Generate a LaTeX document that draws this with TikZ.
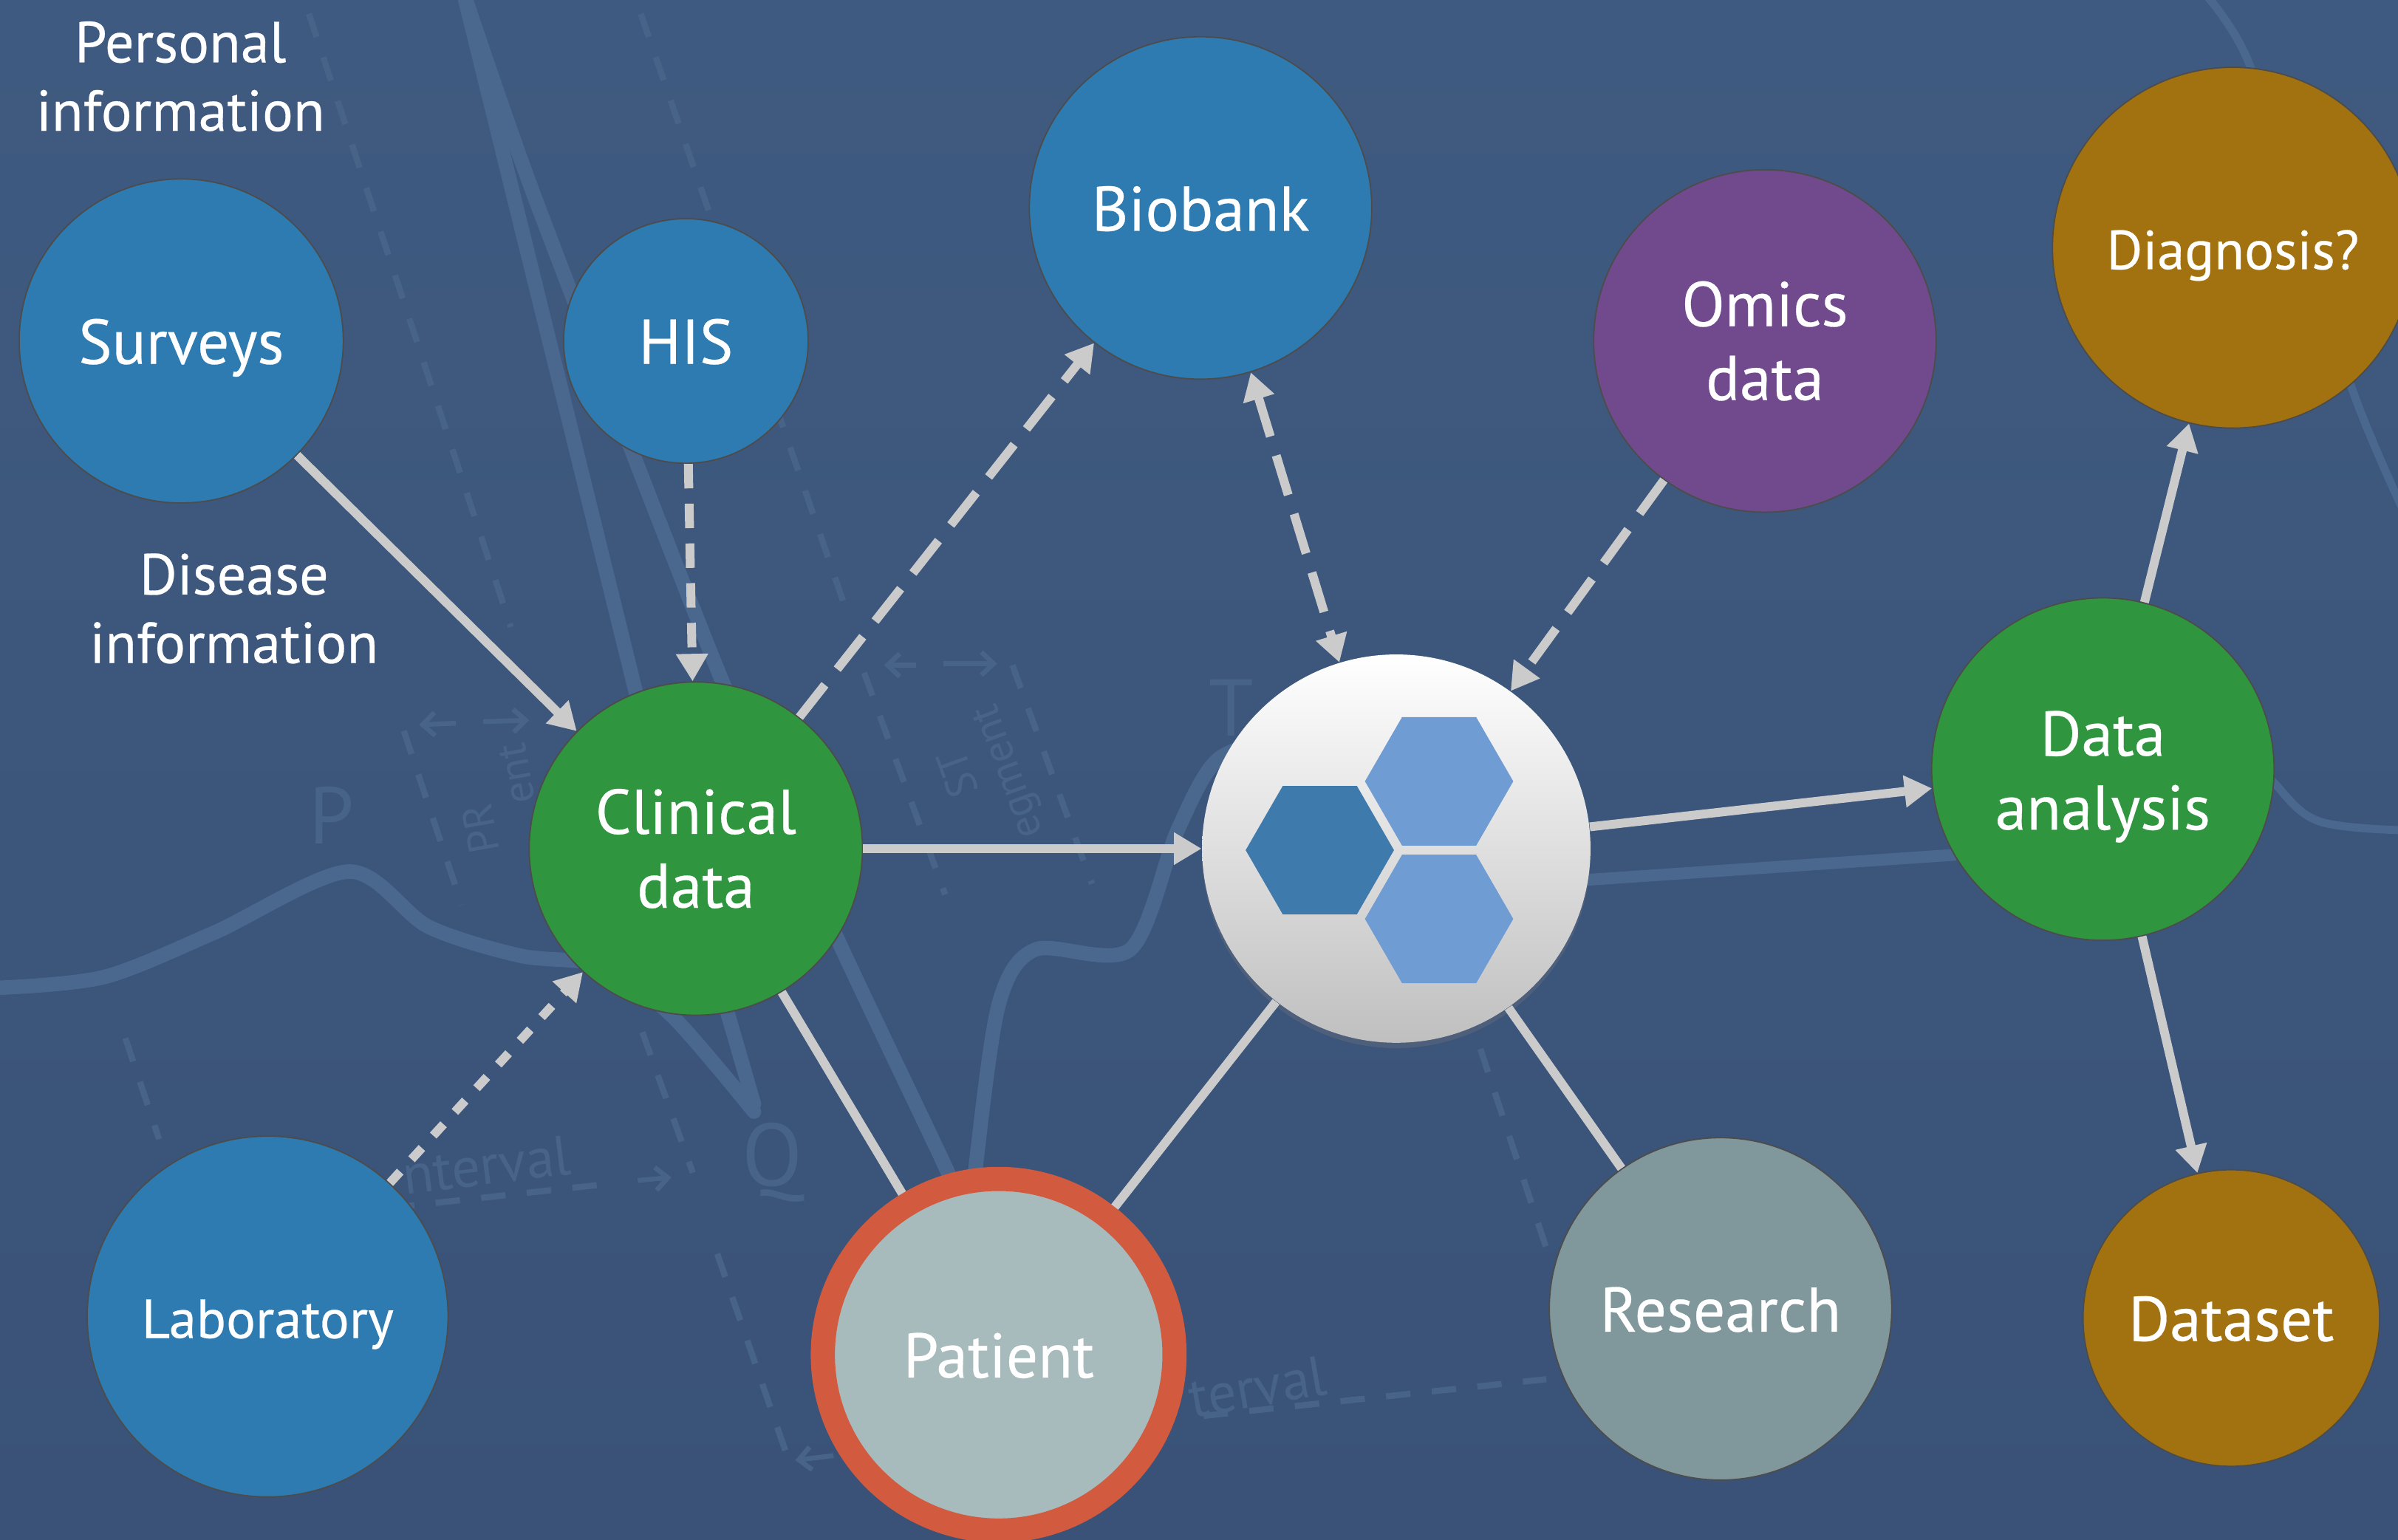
\documentclass[tikz,border=0pt]{standalone}
\usepackage{fontspec}
\setmainfont{PT Sans}[FakeBold=0.35]
\newfontfamily\faintfont{PT Sans}
\usetikzlibrary{arrows.meta,shapes.geometric,shadows}
\definecolor{bgTop}{HTML}{3F5A80}
\definecolor{bgBottom}{HTML}{3A5277}
\definecolor{traceBlue}{HTML}{4A678D}
\definecolor{guideBlue}{HTML}{486388}
\definecolor{lineGray}{HTML}{CBCBCB}
\definecolor{paperBlue}{HTML}{2D7BB0}
\definecolor{paperGreen}{HTML}{2F953F}
\definecolor{paperPurple}{HTML}{714A8E}
\definecolor{paperGold}{HTML}{A27210}
\definecolor{researchGray}{HTML}{80979B}
\definecolor{patientGray}{HTML}{A7BBBD}
\definecolor{patientRing}{HTML}{D25A3E}
\definecolor{hexDark}{HTML}{3F7AAD}
\definecolor{hexLight}{HTML}{6F9DD3}
\tikzset{
  disc/.style={circle,minimum size=#1,inner sep=0pt,draw=black!70,line width=0.5pt,
    text=white,align=center,font=\fontsize{23.5}{27.5}\selectfont},
  smalltext/.style={font=\fontsize{20.5}{24}\selectfont},
  baseline at/.style={text height=#1,text depth=0pt},
  freetext/.style={text=white,align=center,inner sep=0pt,font=\fontsize{21.5}{25.5}\selectfont},
  hexcell/.style={regular polygon,regular polygon sides=6,minimum size=1.94cm,inner sep=0pt},
  solidlink/.style={draw=lineGray,line width=3.3pt},
  flowlink/.style={solidlink,-{Triangle[length=0.36cm,width=0.4cm]}},
  guide/.style={draw=guideBlue,line width=2.3pt,dash pattern=on 0.32cm off 0.28cm},
  guidearrow/.style={draw=guideBlue,line width=1.8pt,-{Straight Barb[length=0.16cm,width=0.3cm]}},
  trace/.style={draw=traceBlue,line width=5.4pt,line join=round},
  faint/.style={text=guideBlue,inner sep=0pt}
}
\begin{document}
\begin{tikzpicture}[x=0.02cm,y=-0.02cm]
        \useasboundingbox (0,0) rectangle (1568,1007);
        \shade [top color=bgTop,bottom color=bgBottom] (0,0) rectangle (1568,1007);

        % ecg trace behind everything
        \draw [trace,line cap=round] plot[smooth,tension=0.5] coordinates
            {(0,646) (68,639) (140,610) (228,570) (280,606) (340,625) (395,632) (440,665) (493,727)};
        \draw [trace,line cap=round] (493,722) -- (420,470) -- (303,-5);
        \draw [trace] plot[smooth,tension=0.4] coordinates
            {(303,-5) (350,130) (470,440) (548,615) (619,765) (632,800)};
        \draw [trace] plot[smooth,tension=0.5] coordinates
            {(636,800) (638,763) (653,657) (677,621) (739,621) (770,543) (796,497) (840,480)};
        \draw [trace,line width=4.4pt] (1000,578) -- (1279,559);
        \draw [trace,line width=3pt] plot[smooth,tension=0.6] coordinates
            {(1441,-5) (1470,40) (1500,140) (1540,260) (1572,335)};
        \draw [trace,line width=3pt] plot[smooth,tension=0.6] coordinates
            {(1470,490) (1487,512) (1516,537) (1572,543)};

        % dashed guides of the ecg
        \foreach \gx/\gy/\hx/\hy in {202/9/334/410, 419/9/554/401, 565/440/618/585, 662/435/714/578,
            264/478/302/592, 420/675/453/767, 82/679/104/745, 469/820/515/953, 968/686/1011/816,
            787/926/1011/902, 255/790/400/774}
            \draw [guide] (\gx,\gy) -- (\hx,\hy);
        \foreach \gx/\gy/\hx/\hy in {298/473/274/474, 316/472/346/471, 599/435/578/435, 617/434/652/434,
            417/772/439/770, 545/952/520/955}
            \draw [guidearrow] (\gx,\gy) -- (\hx,\hy);
        \node [faint,font=\faintfont\fontsize{30}{30}\selectfont] (waveP) at (217,533) {P};
        \node [faint,font=\faintfont\fontsize{33}{33}\selectfont] (waveQ) at (505,760) {Q};
        \node [faint,font=\faintfont\fontsize{30}{30}\selectfont] (waveT) at (805,463) {T};
        \node [faint,rotate=100,font=\faintfont\fontsize{16}{16}\selectfont] (prText) at (314,542) {PR};
        \node [faint,rotate=100,font=\faintfont\fontsize{16}{16}\selectfont] (prEnd) at (338,506) {ent};
        \node [faint,rotate=110,font=\faintfont\fontsize{16}{16}\selectfont] (stText) at (626,506) {ST};
        \node [faint,rotate=110,font=\faintfont\fontsize{16}{16}\selectfont] (stEnd) at (661,504) {egment};
        \node [faint,rotate=7,font=\faintfont\fontsize{21}{21}\selectfont] (intervalA) at (318,762) {nterval};
        \node [faint,rotate=10,font=\faintfont\fontsize{21}{21}\selectfont] (intervalB) at (822,907) {terval};

        % free labels
        \node [freetext] (personalText) at (118,50) {Personal\\information};
        \node [freetext] (diseaseText) at (153,398) {Disease\\information};

        % data sources and outcomes
        \node [disc=4.24cm,fill=paperBlue,baseline at=17pt] (surveys) at (118.5,223) {Surveys};
        \node [disc=3.2cm,fill=paperBlue,baseline at=17pt] (his) at (448.5,223) {HIS};
        \node [disc=4.48cm,fill=paperBlue,baseline at=17pt] (biobank) at (785,136) {Biobank};
        \node [disc=4.48cm,fill=paperPurple] (omics) at (1154,223) {Omics\\data};
        \node [disc=4.72cm,fill=paperGold,smalltext,baseline at=16pt] (diagnosis) at (1460,162) {Diagnosis?};
        \node [disc=4.36cm,fill=paperGreen] (clinical) at (455,555) {Clinical\\data};
        \node [disc=4.48cm,fill=paperGreen,text height=50pt,text depth=5pt] (analysis) at (1375,503) {Data\\analysis};
        \node [disc=4.72cm,fill=paperBlue,smalltext,baseline at=16pt] (laboratory) at (175,861) {Laboratory};
        \node [disc=4.48cm,fill=researchGray,baseline at=17pt] (research) at (1125,856) {Research};
        \node [disc=3.88cm,fill=paperGold,baseline at=17pt] (dataset) at (1459,862) {Dataset};
        \node [disc=4.6cm,fill=patientGray,draw=patientRing,line width=9pt,baseline at=17pt] (patient) at (653,886) {Patient};

        % central hub
        \node [circle,minimum size=5.08cm,inner sep=0pt,top color=white,bottom color=black!25,
            drop shadow={opacity=0.25,shadow xshift=0pt,shadow yshift=-2pt}] (hub) at (913,555) {};
        \node [hexcell,fill=hexDark] (hexA) at (863,556) {};
        \node [hexcell,fill=hexLight] (hexB) at (941,511) {};
        \node [hexcell,fill=hexLight] (hexC) at (941,601) {};

        % plain links to the patient and research
        \draw [solidlink] (clinical) -- (patient);
        \draw [solidlink] (hub) -- (patient);
        \draw [solidlink] (hub) -- (research);

        % solid arrows
        \draw [flowlink] (surveys) -- (clinical);
        \draw [flowlink] (clinical) -- (hub);
        \draw [flowlink] (hub) -- (analysis);
        \draw [flowlink] (analysis) -- (diagnosis);
        \draw [flowlink] (analysis) -- (dataset);

        % dashed arrows
        \draw [flowlink,dash pattern=on 0.32cm off 0.2cm] (his) -- (clinical);
        \draw [flowlink,dash pattern=on 0.2cm off 0.22cm] (laboratory) -- (clinical);
        \draw [flowlink,dash pattern=on 0.54cm off 0.26cm] (clinical) -- (biobank);
        \draw [solidlink,{Triangle[length=0.36cm,width=0.4cm]}-{Triangle[length=0.36cm,width=0.4cm]},dash pattern=on 0.54cm off 0.26cm] (biobank) -- (hub);
        \draw [flowlink,dash pattern=on 0.54cm off 0.26cm] (omics) -- (hub);
\end{tikzpicture}
\end{document}
